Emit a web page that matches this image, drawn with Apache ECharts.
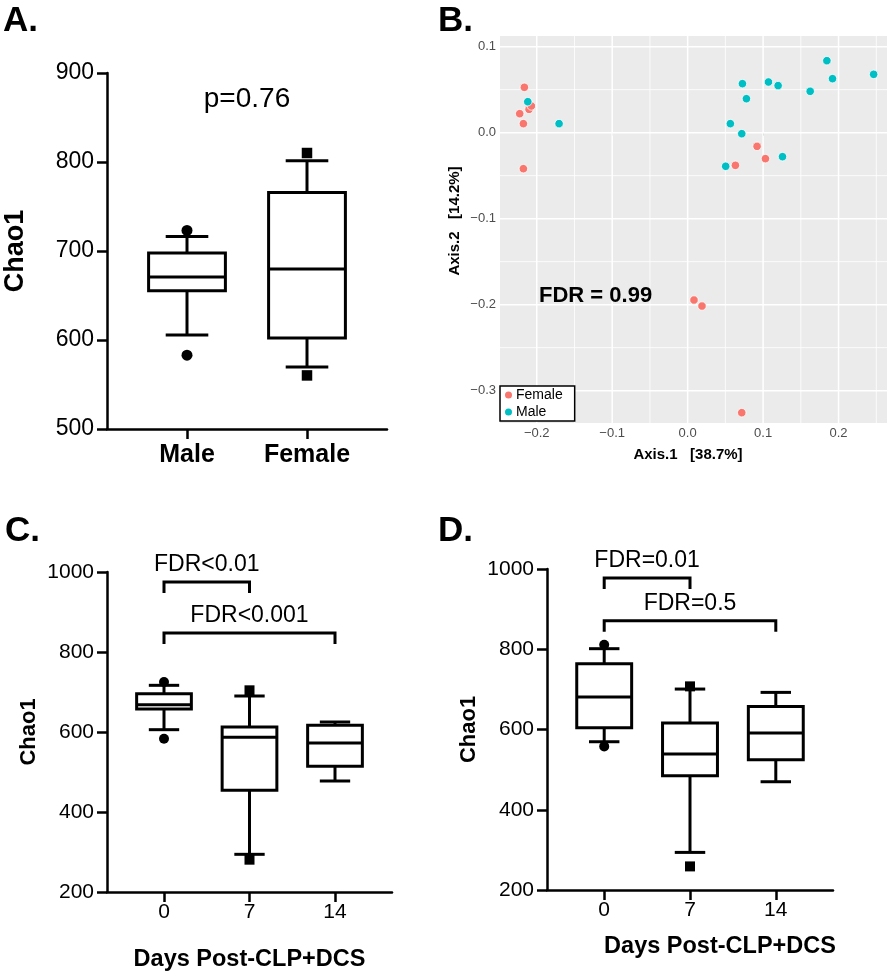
<!DOCTYPE html>
<html><head><meta charset="utf-8">
<script src="https://cdn.jsdelivr.net/npm/echarts@6/dist/echarts.min.js"></script>
<style>html,body{margin:0;padding:0;background:#fff}#c{width:891px;height:975px}</style>
</head><body><div id="c"></div>
<script>
const FONT = '"Liberation Sans", Arial, Helvetica, sans-serif';

// ---------- Panel A: Chao1 by sex ----------
const sexGroups = ['Male', 'Female'];
// [lower whisker, Q1, median, Q3, upper whisker]
const boxA = [
  [605.6, 655.4, 670.8, 697.7, 716.4],
  [569.6, 602.2, 679.8, 765.8, 801.5]
];
const outliersA_male = [723.1, 583.0];
const outliersA_female = [810.1, 560.2];
const yTicksA = [500, 600, 700, 800, 900];
const pLabelA = 'p=0.76';
const pLabelA_value = 870;

// ---------- Panel B: PCoA ----------
const femaleB = [
  [-0.2164, 0.0527], [-0.2226, 0.0221], [-0.2102, 0.0271], [-0.2071, 0.0310],
  [-0.2177, 0.0105], [-0.2177, -0.0419], [0.0633, -0.0380], [0.0920, -0.0159],
  [0.1031, -0.0302], [0.0084, -0.1946], [0.0190, -0.2016], [0.0717, -0.3256]
];
const maleB = [
  [-0.2119, 0.0360], [-0.1704, 0.0105], [0.0504, -0.0391], [0.0566, 0.0105],
  [0.0717, -0.0012], [0.0726, 0.0570], [0.0779, 0.0395], [0.1071, 0.0589],
  [0.1199, 0.0547], [0.1257, -0.0279], [0.1624, 0.0481], [0.1845, 0.0837],
  [0.1920, 0.0628], [0.2465, 0.0678]
];
const xTicksB = [-0.2, -0.1, 0.0, 0.1, 0.2];
const yTicksB = [-0.3, -0.2, -0.1, 0.0, 0.1];
const xMinorB = [-0.15, -0.05, 0.05, 0.15, 0.25];
const yMinorB = [-0.25, -0.15, -0.05, 0.05];
const fdrB = 'FDR = 0.99';
const fdrB_pos = [-0.197, -0.19];

// ---------- Panel C ----------
const days = ['0', '7', '14'];
const boxC = [
  [605.8, 657.5, 668.3, 695.8, 716.7],
  [294.2, 454.2, 586.7, 612.5, 690.0],
  [477.5, 514.2, 572.5, 616.7, 625.0]
];
const outliersC_day0 = [725.0, 583.3];
const outliersC_day7 = [704.2, 280.8];
const bracketLabelsC = ['FDR<0.01', 'FDR<0.001'];
const bracketPairsC = [[0, 1], [0, 2]];
const bracketLevelsC = [975, 847.5];

// ---------- Panel D ----------
const boxD = [
  [569.5, 604.4, 680.9, 764.0, 801.4],
  [293.7, 484.8, 538.8, 616.0, 700.8],
  [469.8, 524.7, 591.1, 657.6, 692.5]
];
const outliersD_day0 = [811.4, 557.9];
const outliersD_day7 = [707.5, 258.8];
const bracketLabelsD = ['FDR=0.01', 'FDR=0.5'];
const bracketPairsD = [[0, 1], [0, 2]];
const bracketLevelsD = [977.6, 871.2];
const yTicksCD = [200, 400, 600, 800, 1000];

// ---------- helpers ----------
function boxItem(params, api) {
  const x = api.value(0);
  const lo = api.coord([x, api.value(1)]);
  const q1 = api.coord([x, api.value(2)]);
  const md = api.coord([x, api.value(3)]);
  const q3 = api.coord([x, api.value(4)]);
  const hi = api.coord([x, api.value(5)]);
  const bw = api.size([0.64, 0])[0];
  const cw = api.size([0.355, 0])[0];
  const cx = md[0];
  const ls = { stroke: '#000', lineWidth: 3, fill: null };
  return {
    type: 'group', children: [
      { type: 'line', shape: { x1: cx, y1: hi[1], x2: cx, y2: q3[1] }, style: ls },
      { type: 'line', shape: { x1: cx, y1: q1[1], x2: cx, y2: lo[1] }, style: ls },
      { type: 'line', shape: { x1: cx - cw / 2, y1: hi[1], x2: cx + cw / 2, y2: hi[1] }, style: ls },
      { type: 'line', shape: { x1: cx - cw / 2, y1: lo[1], x2: cx + cw / 2, y2: lo[1] }, style: ls },
      { type: 'rect', shape: { x: cx - bw / 2, y: q3[1], width: bw, height: q1[1] - q3[1] }, style: { stroke: '#000', lineWidth: 3, fill: '#fff' } },
      { type: 'line', shape: { x1: cx - bw / 2, y1: md[1], x2: cx + bw / 2, y2: md[1] }, style: ls }
    ]
  };
}
function bracketRender(labels) {
  return function (params, api) {
    const a = api.coord([api.value(0), api.value(2)]);
    const b = api.coord([api.value(1), api.value(2)]);
    const leg = 11;
    return {
      type: 'group', children: [
        { type: 'polyline', shape: { points: [[a[0], a[1] + leg], [a[0], a[1]], [b[0], b[1]], [b[0], b[1] + leg]] },
          style: { stroke: '#000', lineWidth: 3, fill: null, lineJoin: 'miter' } },
        { type: 'text', x: (a[0] + b[0]) / 2, y: a[1] - 17,
          style: { text: labels[params.dataIndex], fontSize: 23, fontFamily: FONT, fill: '#000', align: 'center', verticalAlign: 'middle' } }
      ]
    };
  };
}
function textRender(text, size, weight, align) {
  return function (params, api) {
    const p = api.coord([api.value(0), api.value(1)]);
    return { type: 'text', x: p[0], y: p[1],
      style: { text: text, fontSize: size, fontWeight: weight, fontFamily: FONT, fill: '#000', align: align, verticalAlign: 'middle' } };
  };
}
// one item per gridline: [x, y, orientFlag(0 = vertical, 1 = horizontal), major(1)/minor(0)]
function gridLineRender(params, api) {
  const cs = params.coordSys;
  const p = api.coord([api.value(0), api.value(1)]);
  const horiz = api.value(2) === 1;
  const w = api.value(3) === 1 ? 1.5 : 0.8;
  const shape = horiz
    ? { x1: cs.x, y1: p[1], x2: cs.x + cs.width, y2: p[1] }
    : { x1: p[0], y1: cs.y, x2: p[0], y2: cs.y + cs.height };
  if (!horiz && (p[0] < cs.x || p[0] > cs.x + cs.width)) return null;
  if (horiz && (p[1] < cs.y || p[1] > cs.y + cs.height)) return null;
  return { type: 'line', shape: shape, style: { stroke: '#ffffff', lineWidth: w, opacity: 1 } };
}
function catXAxis(gi, cats, labelSize, labelWeight, margin, name, nameGap, namePad) {
  const idx = cats.map((_, i) => i);
  return {
    gridIndex: gi, type: 'value', min: -2 / 3, max: cats.length - 1 + 2 / 3,
    axisLine: { onZero: false, lineStyle: { color: '#000', width: 2.5 } },
    axisTick: { customValues: idx, length: 10, lineStyle: { color: '#000', width: 2.5 } },
    axisLabel: { customValues: idx, formatter: v => cats[Math.round(v)], fontSize: labelSize, fontWeight: labelWeight,
      color: '#000', fontFamily: FONT, margin: margin },
    splitLine: { show: false },
    name: name, nameLocation: 'middle', nameGap: nameGap,
    nameTextStyle: { fontSize: 23.5, fontWeight: 'bold', color: '#000', fontFamily: FONT, padding: namePad }
  };
}
function chaoYAxis(gi, ticks, labelSize, nameSize, nameGap) {
  return {
    gridIndex: gi, type: 'value', min: ticks[0], max: ticks[ticks.length - 1], interval: ticks[1] - ticks[0],
    axisLine: { show: true, onZero: false, lineStyle: { color: '#000', width: 2.5 } },
    axisTick: { show: true, length: 10, lineStyle: { color: '#000', width: 2.5 } },
    axisLabel: { fontSize: labelSize, color: '#000', fontFamily: FONT, margin: 13, formatter: v => String(v) },
    splitLine: { show: false },
    name: 'Chao1', nameLocation: 'middle', nameGap: nameGap,
    nameTextStyle: { fontSize: nameSize, fontWeight: 'bold', color: '#000', fontFamily: FONT }
  };
}
function outlierSeries(xi, yi, pos, values, symbol, size) {
  return { type: 'scatter', xAxisIndex: xi, yAxisIndex: yi, z: 5, silent: true,
    symbol: symbol, symbolSize: size, itemStyle: { color: '#000', opacity: 1 },
    data: values.map(v => [pos, v]) };
}

const gridLinesB = []
  .concat(xMinorB.map(v => [v, 0, 0, 0]))
  .concat(yMinorB.map(v => [0, v, 1, 0]))
  .concat(xTicksB.map(v => [v, 0, 0, 1]))
  .concat(yTicksB.map(v => [0, v, 1, 1]));

const chart = echarts.init(document.getElementById('c'), null, { renderer: 'canvas' });

const option = {
  backgroundColor: '#fff',
  animation: false,
  textStyle: { fontFamily: FONT },
  grid: [
    { left: 107, top: 73, width: 280, height: 356 },
    { left: 500, top: 36, width: 387, height: 387, show: true, backgroundColor: '#ebebeb', borderWidth: 0, z: 0 },
    { left: 107, top: 572, width: 285, height: 320 },
    { left: 547, top: 569, width: 286, height: 321 }
  ],
  xAxis: [
    catXAxis(0, sexGroups, 25, 'bold', 14, '', 0),
    {
      gridIndex: 1, type: 'value', min: -0.2487, max: 0.2642,
      axisLine: { show: false },
      axisTick: { customValues: xTicksB, length: 3, lineStyle: { color: '#333', width: 1 } },
      axisLabel: { customValues: xTicksB, formatter: v => (v < -1e-9 ? '\u2212' : '') + Math.abs(v).toFixed(1),
        fontSize: 13, color: '#4d4d4d', fontFamily: FONT, margin: 4 },
      splitLine: { show: false }
    },
    catXAxis(2, days, 21, 'normal', 10, 'Days Post-CLP+DCS', 56, [0, 0, 0, 0]),
    catXAxis(3, days, 21, 'normal', 10, 'Days Post-CLP+DCS', 45, [0, 0, 0, 60])
  ],
  yAxis: [
    chaoYAxis(0, yTicksA, 23, 27, 78),
    {
      gridIndex: 1, type: 'value', min: -0.3376, max: 0.1124,
      axisLine: { show: false },
      axisTick: { customValues: yTicksB, length: 3, lineStyle: { color: '#333', width: 1 } },
      axisLabel: { customValues: yTicksB, formatter: v => (v < -1e-9 ? '\u2212' : '') + Math.abs(v).toFixed(1),
        fontSize: 13, color: '#4d4d4d', fontFamily: FONT, margin: 4 },
      splitLine: { show: false }
    },
    chaoYAxis(2, yTicksCD, 21, 22, 67),
    chaoYAxis(3, yTicksCD, 21, 22, 67)
  ],
  legend: {
    left: 500, top: 386, orient: 'vertical', data: ['Female', 'Male'], z: 10,
    backgroundColor: '#fff', borderColor: '#000', borderWidth: 1.5, borderRadius: 0,
    padding: [2, 12, 2, 3], itemGap: 3, itemWidth: 9, itemHeight: 9, icon: 'circle',
    textStyle: { fontSize: 14, fontFamily: FONT, color: '#000', padding: [0, 0, 0, -2] }
  },
  graphic: [
    { type: 'text', left: 3, top: 4, style: { text: 'A.', font: 'bold 35px "Liberation Sans", Arial', fill: '#000' } },
    { type: 'text', left: 438, top: 4, style: { text: 'B.', font: 'bold 35px "Liberation Sans", Arial', fill: '#000' } },
    { type: 'text', left: 5, top: 514, style: { text: 'C.', font: 'bold 35px "Liberation Sans", Arial', fill: '#000' } },
    { type: 'text', left: 438, top: 514, style: { text: 'D.', font: 'bold 35px "Liberation Sans", Arial', fill: '#000' } },
    { type: 'text', x: 688, y: 455, style: { text: 'Axis.1   [38.7%]', font: 'bold 15px "Liberation Sans", Arial', fill: '#000', align: 'center', verticalAlign: 'middle' } },
    { type: 'text', x: 454.5, y: 221, rotation: Math.PI / 2, style: { text: 'Axis.2   [14.2%]', font: 'bold 15px "Liberation Sans", Arial', fill: '#000', align: 'center', verticalAlign: 'middle' } }
  ],
  series: [
    // Panel A
    { type: 'custom', xAxisIndex: 0, yAxisIndex: 0, z: 2, silent: true, clip: false, renderItem: boxItem,
      data: boxA.map((b, i) => [i].concat(b)) },
    outlierSeries(0, 0, 0, outliersA_male, 'circle', 11),
    outlierSeries(0, 0, 1, outliersA_female, 'rect', 10.5),
    { type: 'custom', xAxisIndex: 0, yAxisIndex: 0, z: 6, silent: true, clip: false,
      renderItem: textRender(pLabelA, 28, 'normal', 'center'), data: [[0.5, pLabelA_value]] },

    // Panel B gridlines
    { type: 'custom', xAxisIndex: 1, yAxisIndex: 1, z: 3, silent: true, clip: false,
      renderItem: gridLineRender, data: gridLinesB },
    { name: 'Female', type: 'scatter', xAxisIndex: 1, yAxisIndex: 1, z: 5, symbolSize: 8.5,
      itemStyle: { color: '#F8766D', borderColor: '#fff', borderWidth: 0.8, opacity: 1 }, data: femaleB },
    { name: 'Male', type: 'scatter', xAxisIndex: 1, yAxisIndex: 1, z: 5, symbolSize: 8.5,
      itemStyle: { color: '#00BFC4', borderColor: '#fff', borderWidth: 0.8, opacity: 1 }, data: maleB },
    { type: 'custom', xAxisIndex: 1, yAxisIndex: 1, z: 6, silent: true, clip: false,
      renderItem: textRender(fdrB, 22, 'bold', 'left'), data: [fdrB_pos] },

    // Panel C
    { type: 'custom', xAxisIndex: 2, yAxisIndex: 2, z: 2, silent: true, clip: false, renderItem: boxItem,
      data: boxC.map((b, i) => [i].concat(b)) },
    outlierSeries(2, 2, 0, outliersC_day0, 'circle', 10),
    outlierSeries(2, 2, 1, outliersC_day7, 'rect', 10),
    { type: 'custom', xAxisIndex: 2, yAxisIndex: 2, z: 6, silent: true, clip: false,
      renderItem: bracketRender(bracketLabelsC),
      data: bracketPairsC.map((p, i) => [p[0], p[1], bracketLevelsC[i]]) },

    // Panel D
    { type: 'custom', xAxisIndex: 3, yAxisIndex: 3, z: 2, silent: true, clip: false, renderItem: boxItem,
      data: boxD.map((b, i) => [i].concat(b)) },
    outlierSeries(3, 3, 0, outliersD_day0, 'circle', 10),
    outlierSeries(3, 3, 1, outliersD_day7, 'rect', 10),
    { type: 'custom', xAxisIndex: 3, yAxisIndex: 3, z: 6, silent: true, clip: false,
      renderItem: bracketRender(bracketLabelsD),
      data: bracketPairsD.map((p, i) => [p[0], p[1], bracketLevelsD[i]]) }
  ]
};
chart.setOption(option);
</script>
</body></html>
